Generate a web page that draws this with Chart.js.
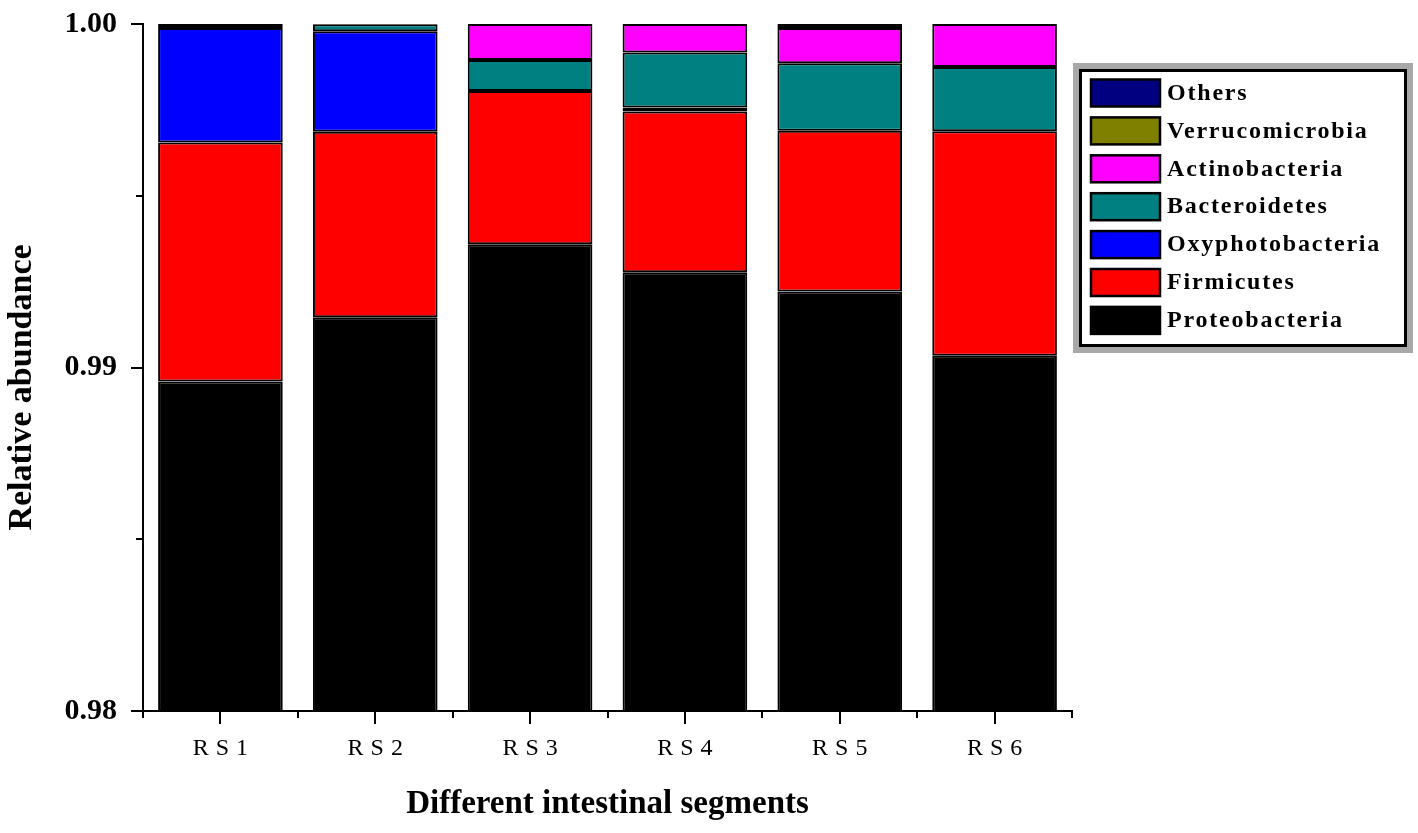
<!DOCTYPE html>
<html>
<head>
<meta charset="utf-8">
<script src="https://cdn.jsdelivr.net/npm/chart.js@4.4.1/dist/chart.umd.min.js"></script>
<style>
  html, body { margin: 0; padding: 0; background: #fff; }
  #wrap { width: 1418px; height: 833px; position: relative; }
</style>
</head>
<body>
<div id="wrap"><canvas id="c" width="1418" height="833"></canvas></div>
<script>
// ---- data ----
const categories = ['RS1', 'RS2', 'RS3', 'RS4', 'RS5', 'RS6'];
const proteobacteria   = [0.98959, 0.99146, 0.99359, 0.99277, 0.99221, 0.99034];
const firmicutes       = [0.00696, 0.00540, 0.00446, 0.00468, 0.00468, 0.00654];
const oxyphotobacteria = [0.00333, 0.00293, 0, 0.00012, 0, 0];
const bacteroidetes    = [0, 0.00020, 0.00090, 0.00160, 0.00197, 0.00187];
const actinobacteria   = [0, 0, 0.00105, 0.00083, 0.00102, 0.00125];
const verrucomicrobia  = [0, 0, 0, 0, 0.00012, 0];
const others           = [0.00012, 0.00001, 0, 0, 0, 0];
const yTickValues = [0.98, 0.99, 1.00];

const seriesNames = ['Proteobacteria', 'Firmicutes', 'Oxyphotobacteria', 'Bacteroidetes', 'Actinobacteria', 'Verrucomicrobia', 'Others'];
const seriesData = [proteobacteria, firmicutes, oxyphotobacteria, bacteroidetes, actinobacteria, verrucomicrobia, others];
const seriesColors = ['#000000', '#ff0000', '#0000ff', '#008080', '#ff00ff', '#808000', '#000080'];

const SERIF = '"Liberation Serif", "Times New Roman", serif';

const datasets = seriesNames.map((n, i) => ({
  label: n,
  data: seriesData[i],
  backgroundColor: seriesColors[i],
  borderColor: '#000',
  borderWidth: 2,
  borderSkipped: false,
  barPercentage: 0.805,
  categoryPercentage: 1.0
}));

// custom tick marks + legend
const decorPlugin = {
  id: 'decor',
  afterLayout(chart) {
    const s = chart.scales.x;
    if (!s._lsPatched) {
      const orig = s.drawLabels;
      s.drawLabels = function (ca) {
        const ctx = this.ctx;
        ctx.save();
        ctx.letterSpacing = '7px';
        ctx.translate(3.5, 0);
        orig.call(this, ca);
        ctx.restore();
      };
      s._lsPatched = true;
    }
    const y = chart.scales.y;
    if (!y._tPatched) {
      const origT = y.drawTitle;
      y.drawTitle = function () {
        const ctx = this.ctx;
        ctx.save();
        ctx.translate(0, 20);
        origT.call(this);
        ctx.restore();
      };
      y._tPatched = true;
    }
  },
  afterDraw(chart) {
    const ctx = chart.ctx;
    const xs = chart.scales.x, ys = chart.scales.y;
    const ca = chart.chartArea;
    ctx.save();
    ctx.strokeStyle = '#000';
    ctx.lineWidth = 2;
    // y ticks
    ys.ticks.forEach(t => {
      const py = Math.round(ys.getPixelForValue(t.value));
      const major = yTickValues.some(v => Math.abs(v - t.value) < 1e-9);
      const len = major ? 12 : 7;
      ctx.beginPath();
      ctx.moveTo(ca.left - len, py);
      ctx.lineTo(ca.left, py);
      ctx.stroke();
    });
    // x ticks
    const n = categories.length;
    const step = (xs.right - xs.left) / n;
    for (let i = 0; i < n; i++) {
      const px = Math.round(xs.getPixelForValue(i));
      ctx.beginPath();
      ctx.moveTo(px, ca.bottom);
      ctx.lineTo(px, ca.bottom + 13);
      ctx.stroke();
    }
    for (let i = 0; i <= n; i++) {
      const px = Math.round(xs.left + i * step);
      ctx.beginPath();
      ctx.moveTo(px, ca.bottom);
      ctx.lineTo(px, ca.bottom + 7);
      ctx.stroke();
    }
    // legend
    const bx = 1073, by = 63, bw = 340, bh = 290;
    ctx.fillStyle = '#fff';
    ctx.fillRect(bx, by, bw, bh);
    ctx.strokeStyle = '#a8a8a8';
    ctx.lineWidth = 6;
    ctx.strokeRect(bx + 3, by + 3, bw - 6, bh - 6);
    ctx.strokeStyle = '#000';
    ctx.lineWidth = 3;
    ctx.strokeRect(bx + 7.5, by + 7.5, bw - 15, bh - 15);
    const items = chart.data.datasets.slice().reverse();
    ctx.font = 'bold 24px ' + SERIF;
    ctx.textBaseline = 'middle';
    ctx.textAlign = 'left';
    ctx.letterSpacing = '1.8px';
    items.forEach((d, i) => {
      const sy = 79.5 + i * 37.9;
      ctx.fillStyle = d.backgroundColor;
      ctx.fillRect(1091, sy, 69, 27);
      ctx.strokeStyle = '#000';
      ctx.lineWidth = 2.5;
      ctx.strokeRect(1091, sy, 69, 27);
      ctx.fillStyle = '#000';
      ctx.fillText(d.label, 1167, sy + 14);
    });
    ctx.restore();
  }
};

Chart.defaults.color = '#000';
new Chart(document.getElementById('c'), {
  type: 'bar',
  data: { labels: categories, datasets },
  plugins: [decorPlugin],
  options: {
    responsive: false,
    animation: false,
    layout: { padding: { left: 0, right: 346, top: 24, bottom: 0 } },
    plugins: { legend: { display: false }, tooltip: { enabled: false }, title: { display: false } },
    scales: {
      x: {
        stacked: true,
        grid: { display: false, drawTicks: false },
        border: { display: true, color: '#000', width: 2 },
        ticks: { font: { family: SERIF, size: 24 }, padding: 23, color: '#000', maxRotation: 0 },
        title: { display: true, text: 'Different intestinal segments', font: { family: SERIF, size: 33, weight: 'bold' }, padding: { top: 0, bottom: 9 }, color: '#000' },
        afterFit(scale) { scale.height = 122; scale.paddingLeft = 0; scale.paddingRight = 0; }
      },
      y: {
        stacked: true,
        min: 0.98,
        max: 1.0,
        grid: { display: false, drawTicks: false },
        border: { display: true, color: '#000', width: 2 },
        ticks: {
          stepSize: 0.005,
          padding: 26,
          font: { family: SERIF, size: 30, weight: 'bold' },
          color: '#000',
          callback: (v) => yTickValues.some(t => Math.abs(t - v) < 1e-9) ? Number(v).toFixed(2) : ''
        },
        title: { display: true, text: 'Relative abundance', font: { family: SERIF, size: 34, weight: 'bold' }, padding: { top: 2, bottom: 0 }, color: '#000' },
        afterFit(scale) { scale.width = 143; scale.paddingTop = 0; scale.paddingBottom = 0; }
      }
    }
  }
});
</script>
</body>
</html>
